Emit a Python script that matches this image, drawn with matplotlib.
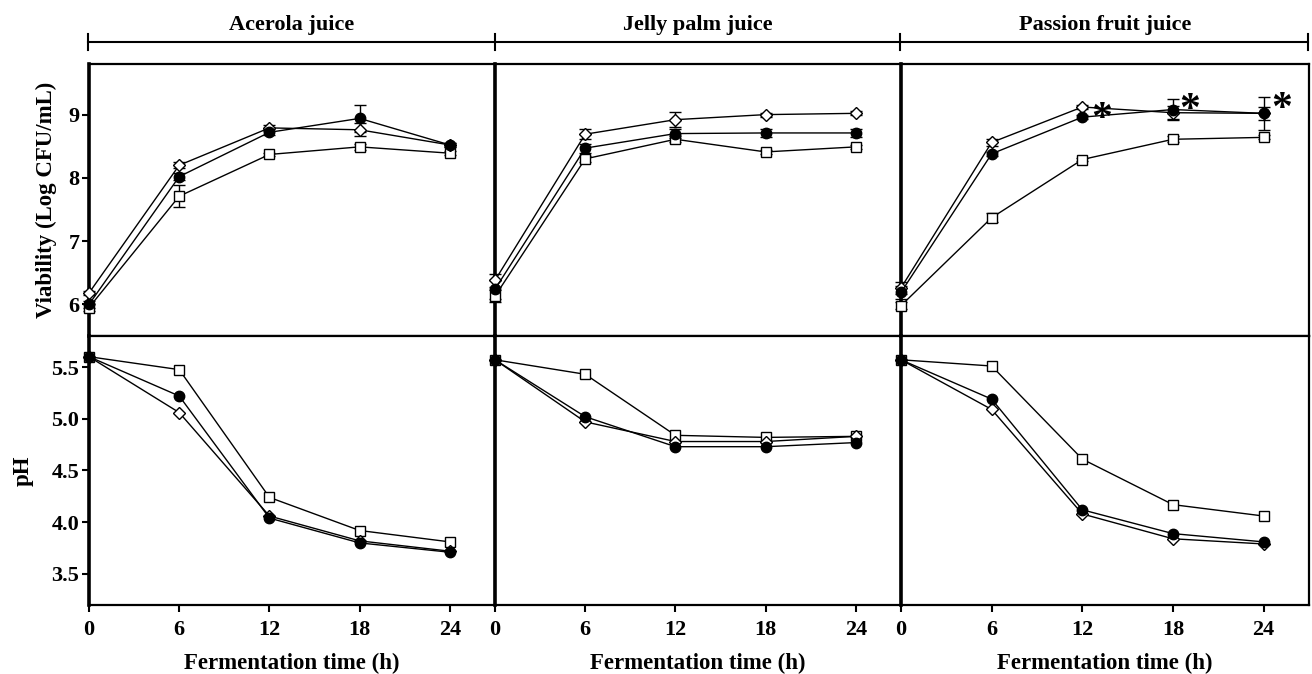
import numpy as np
import matplotlib
matplotlib.use('Agg')
import matplotlib.pyplot as plt
from matplotlib.lines import Line2D

plt.rcParams['font.family'] = ['Liberation Serif', 'DejaVu Serif']
plt.rcParams['font.weight'] = 'bold'

time_h = [0, 6, 12, 18, 24]
juices = ['Acerola juice', 'Jelly palm juice', 'Passion fruit juice']

# viability (log CFU/mL), per juice: circle / diamond / square series
via_circle = [[6.00, 8.02, 8.72, 8.94, 8.52],
              [6.24, 8.47, 8.70, 8.71, 8.71],
              [6.19, 8.38, 8.96, 9.08, 9.02]]
via_diamond = [[6.18, 8.20, 8.79, 8.76, 8.52],
               [6.38, 8.69, 8.92, 9.00, 9.02],
               [6.26, 8.56, 9.12, 9.03, 9.02]]
via_square = [[5.95, 7.71, 8.37, 8.49, 8.39],
              [6.13, 8.30, 8.61, 8.41, 8.49],
              [5.98, 7.37, 8.29, 8.61, 8.64]]

err_circle = [[0.05, 0.05, 0.05, 0.21, 0.03],
              [0.15, 0.07, 0.07, 0.07, 0.07],
              [0.10, 0.03, 0.03, 0.16, 0.26]]
err_diamond = [[0.03, 0.05, 0.05, 0.10, 0.03],
               [0.10, 0.08, 0.12, 0.03, 0.03],
               [0.10, 0.05, 0.03, 0.10, 0.10]]
err_square = [[0.05, 0.17, 0.03, 0.05, 0.03],
              [0.10, 0.05, 0.05, 0.03, 0.03],
              [0.05, 0.07, 0.03, 0.05, 0.03]]

# pH
ph_circle = [[5.60, 5.22, 4.04, 3.80, 3.71],
             [5.57, 5.02, 4.73, 4.73, 4.77],
             [5.57, 5.19, 4.12, 3.89, 3.81]]
ph_diamond = [[5.60, 5.06, 4.06, 3.82, 3.72],
              [5.57, 4.97, 4.78, 4.78, 4.83],
              [5.57, 5.09, 4.08, 3.84, 3.79]]
ph_square = [[5.60, 5.475, 4.24, 3.92, 3.81],
             [5.57, 5.43, 4.84, 4.82, 4.83],
             [5.57, 5.51, 4.61, 4.17, 4.06]]

# significance marks (passion fruit)
star_x = [13.3, 19.1, 25.2]
star_y = [9.09, 9.24, 9.25]

W, H = 1312, 674
fig = plt.figure(figsize=(W / 100, H / 100), dpi=100)

col_edges = [89, 495, 901, 1309]
y_top, y_mid, y_bot = 64, 336, 605

styles = [
    dict(marker='s', mfc='white', mec='black', ms=7),
    dict(marker='D', mfc='white', mec='black', ms=6.5),
    dict(marker='o', mfc='black', mec='black', ms=7.5),
]

FS = 16


def frame(ax):
    for s in ax.spines.values():
        s.set_linewidth(1.6)
    ax.spines['left'].set_linewidth(2.6)
    ax.set_xlim(0, 27)
    ax.tick_params(axis='y', labelsize=FS, width=1.5, length=5, direction='out', pad=2)
    ax.tick_params(axis='x', labelsize=FS, width=1.5, length=5, direction='out', pad=6)


for j in range(3):
    x0 = col_edges[j] / W
    w = (col_edges[j + 1] - col_edges[j]) / W
    ax_t = fig.add_axes([x0, 1 - y_mid / H, w, (y_mid - y_top) / H])
    ax_b = fig.add_axes([x0, 1 - y_bot / H, w, (y_bot - y_mid) / H])

    for ax in (ax_t, ax_b):
        frame(ax)

    series_t = [(via_square[j], err_square[j]), (via_diamond[j], err_diamond[j]),
                (via_circle[j], err_circle[j])]
    for (vals, errs), st in zip(series_t, styles):
        ax_t.errorbar(time_h, vals, yerr=errs, color='black', lw=1.0, elinewidth=1.0,
                      capsize=4, capthick=1.0, clip_on=False, zorder=3, **st)
    series_b = [ph_square[j], ph_diamond[j], ph_circle[j]]
    for vals, st in zip(series_b, styles):
        ax_b.plot(time_h, vals, color='black', lw=1.0, clip_on=False, zorder=3, **st)

    ax_t.set_ylim(5.5, 9.8)
    ax_b.set_ylim(3.2, 5.8)
    ax_t.set_xticks([])
    ax_b.set_xticks(time_h)
    ax_b.set_xlabel('Fermentation time (h)', fontsize=FS + 0.5, fontweight='bold', labelpad=9)

    if j == 0:
        ax_t.set_yticks([6, 7, 8, 9])
        ax_b.set_yticks([3.5, 4.0, 4.5, 5.0, 5.5])
        ax_b.set_yticklabels(['3.5', '4.0', '4.5', '5.0', '5.5'])
        ax_t.set_ylabel('Viability (Log CFU/mL)', fontsize=FS + 0.5, fontweight='bold', labelpad=8)
        ax_b.set_ylabel('pH', fontsize=FS + 0.5, fontweight='bold', labelpad=13)
    else:
        ax_t.set_yticks([])
        ax_b.set_yticks([])

    if j == 2:
        for sx, sy in zip(star_x, star_y):
            ax_t.annotate('*', (sx, sy), xytext=(0, -8), textcoords='offset points',
                          fontsize=30, ha='center', va='center', fontweight='bold')

    # header text and bracket
    cx = (col_edges[j] + col_edges[j + 1]) / 2 / W
    fig.text(cx, 1 - 25 / H, juices[j], ha='center', va='center', fontsize=FS,
             fontweight='bold')

yb = 1 - 42 / H
fig.add_artist(Line2D([88 / W, 1308 / W], [yb, yb], color='black', lw=1.5))
for xe in [88, 495, 900, 1308]:
    fig.add_artist(Line2D([xe / W, xe / W], [1 - 34 / H, 1 - 50 / H], color='black', lw=1.5))

fig.savefig('out.png', dpi=100)
